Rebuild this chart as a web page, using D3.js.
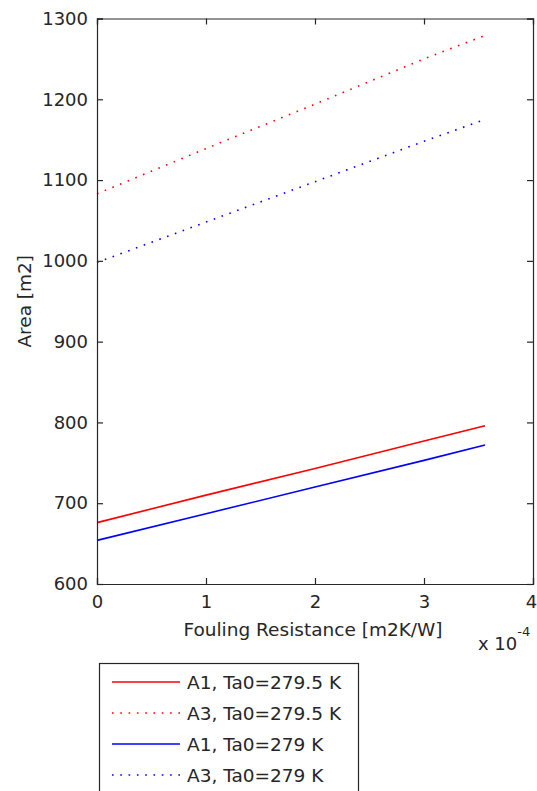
<!DOCTYPE html>
<html>
<head>
<meta charset="utf-8">
<title>Area vs Fouling Resistance</title>
<script src="https://d3js.org/d3.v7.min.js"></script>
<style>
  body { margin: 0; background: #fff; }
  svg text { font-family: "DejaVu Sans", Verdana, sans-serif; fill: #262626; }
</style>
</head>
<body>
<div id="chart"></div>
<script>
"use strict";

// fouling resistance (x 1e-4 m2K/W)
var resist = [0, 1, 2, 3, 3.56];
// areas [m2]
var a1Hot = [676, 710, 743, 777, 796];
var a3Hot = [1083, 1139, 1194, 1250, 1279];
var a1Cold = [654, 687, 720, 753, 772];
var a3Cold = [998, 1048, 1098, 1148, 1175];

var seriesNames = ["A1, Ta0=279.5 K", "A3, Ta0=279.5 K", "A1, Ta0=279 K", "A3, Ta0=279 K"];
var seriesValues = [a1Hot, a3Hot, a1Cold, a3Cold];
var seriesColor = ["#ff0000", "#ff0000", "#0000ff", "#0000ff"];
var seriesDotted = [false, true, false, true];

var xTicks = [0, 1, 2, 3, 4];
var yTicks = [600, 700, 800, 900, 1000, 1100, 1200, 1300];

var W = 537, H = 791;
var box = {left: 97, right: 533, top: 18.5, bottom: 584};

var svg = d3.select("#chart").append("svg")
  .attr("width", W).attr("height", H);

var x = d3.scaleLinear().domain([0, 4]).range([box.left, box.right]);
var y = d3.scaleLinear().domain([600, 1300]).range([box.bottom, box.top]);

// lines
var line = d3.line().x(function(d) { return x(d[0]); }).y(function(d) { return y(d[1]); });
seriesValues.forEach(function(vals, i) {
  svg.append("path")
    .datum(resist.map(function(r, j) { return [r, vals[j]]; }))
    .attr("d", line)
    .attr("fill", "none")
    .attr("stroke", seriesColor[i])
    .attr("stroke-width", 1.6)
    .attr("stroke-dasharray", seriesDotted[i] ? "1.6,6.7" : null);
});

// axes with inward ticks on all four sides
var tick = 6;
var xAxisG = svg.append("g").attr("transform", "translate(0," + box.bottom + ")")
  .call(d3.axisBottom(x).tickValues(xTicks).tickSize(-tick).tickPadding(tick + 5).tickFormat(d3.format("d")));
svg.append("g").attr("transform", "translate(0," + box.top + ")")
  .call(d3.axisTop(x).tickValues(xTicks).tickSize(-tick).tickFormat(""));
svg.append("g").attr("transform", "translate(" + box.left + ",0)")
  .call(d3.axisLeft(y).tickValues(yTicks).tickSize(-tick).tickPadding(tick + 3).tickFormat(d3.format("d")));
svg.append("g").attr("transform", "translate(" + box.right + ",0)")
  .call(d3.axisRight(y).tickValues(yTicks).tickSize(-tick).tickFormat(""));

svg.selectAll(".domain").attr("stroke", "#262626").attr("stroke-width", 1.2);
svg.selectAll(".tick line").attr("stroke", "#262626").attr("stroke-width", 1.2);
svg.selectAll(".tick text").attr("font-size", 18).attr("fill", "#262626")
  .attr("font-family", "DejaVu Sans, Verdana, sans-serif");
// keep the last x label inside the page
xAxisG.selectAll(".tick text").filter(function(d) { return d === 4; }).attr("dx", -2);

// axis labels
svg.append("text")
  .attr("x", 313).attr("y", 636)
  .attr("text-anchor", "middle").attr("font-size", 18.5)
  .text("Fouling Resistance [m2K/W]");

var exp = svg.append("text").attr("x", 478).attr("y", 650).attr("font-size", 18);
exp.append("tspan").text("x 10");
exp.append("tspan").attr("dy", -14).attr("font-size", 13).text("-4");

svg.append("text")
  .attr("transform", "translate(31," + ((box.top + box.bottom) / 2) + ") rotate(-90)")
  .attr("text-anchor", "middle").attr("font-size", 18.5)
  .text("Area [m2]");

// legend
var legend = svg.append("g");
legend.append("rect")
  .attr("x", 99.5).attr("y", 663.5).attr("width", 259).attr("height", 150)
  .attr("fill", "#fff").attr("stroke", "#262626").attr("stroke-width", 1.2);

seriesNames.forEach(function(name, i) {
  var ly = 682 + i * 31;
  legend.append("line")
    .attr("x1", 112).attr("x2", 180).attr("y1", ly).attr("y2", ly)
    .attr("stroke", seriesColor[i]).attr("stroke-width", 1.6)
    .attr("stroke-dasharray", seriesDotted[i] ? "1.6,6.7" : null);
  legend.append("text")
    .attr("x", 187).attr("y", ly + 7)
    .attr("font-size", 18.5)
    .text(name);
});
</script>
</body>
</html>
